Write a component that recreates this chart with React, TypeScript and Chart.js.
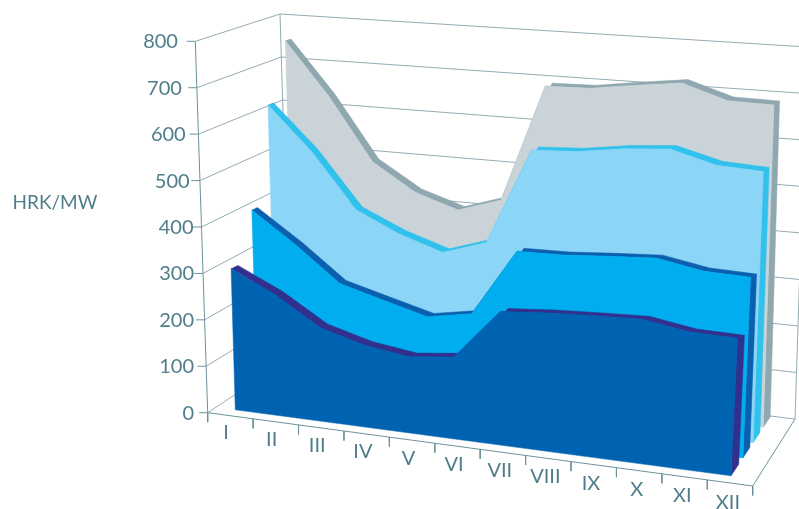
import React, { useEffect, useRef } from "react";
import { Chart, registerables } from "chart.js";

Chart.register(...registerables);

// Monthly capacity prices, HRK/MW, one row per year band (front to back)
const months = ["I", "II", "III", "IV", "V", "VI", "VII", "VIII", "IX", "X", "XI", "XII"];
const valueTicks = [0, 100, 200, 300, 400, 500, 600, 700, 800];
const unitLabel = "HRK/MW";

const bandFront = [305, 259, 200, 174, 161, 172, 278, 286, 291, 295, 280, 278];
const bandSecond = [408, 341, 267, 241, 216, 233, 377, 379, 386, 392, 375, 372];
const bandThird = [623, 526, 406, 362, 331, 362, 572, 577, 591, 599, 573, 568];
const bandBack = [752, 632, 492, 432, 401, 432, 692, 694, 708, 720, 689, 687];

const VALUE_MAX = 800;
const TEXT = "#4f7e8a";
const GRID = "#93abb3";
const AXIS = "#6b929c";

// Screen positions of the eight corners of the 3D box, indexed [month][value][depth]
const BOX = [
  [[[207.7, 412.7], [290.5, 358]], [[195.3, 41.3], [280, 14]]],
  [[[752.7, 486], [795, 419]], [[774, 86], [807, 47]]],
];

type Pt = { x: number; y: number };

const project = (u: number, value: number, w: number): Pt => {
  const v = value / VALUE_MAX;
  const mix = (k: 0 | 1) =>
    (1 - u) * ((1 - v) * ((1 - w) * BOX[0][0][0][k] + w * BOX[0][0][1][k]) + v * ((1 - w) * BOX[0][1][0][k] + w * BOX[0][1][1][k])) +
    u * ((1 - v) * ((1 - w) * BOX[1][0][0][k] + w * BOX[1][0][1][k]) + v * ((1 - w) * BOX[1][1][0][k] + w * BOX[1][1][1][k]));
  return { x: mix(0), y: mix(1) };
};

// Month centres along a band, with the slight foreshortening of the perspective
const bandU = (i: number) => {
  const t = (i + 0.45) / 12;
  return t - 0.015 * Math.sin(Math.PI * t);
};

const line = (data: Pt[], color: string, width = 1) => ({
  data,
  showLine: true,
  fill: false,
  borderColor: color,
  borderWidth: width,
  pointRadius: 0,
  tension: 0,
});

const shape = (data: Pt[], color: string) => ({
  data,
  showLine: true,
  fill: "shape",
  backgroundColor: color,
  borderColor: color,
  borderWidth: 0.5,
  pointRadius: 0,
  tension: 0,
});

type Band = {
  values: number[];
  face: string;
  edge: string;
  depth: number;
  thickLeft: number;
  thickRight: number;
  drop: number;
};

const bands: Band[] = [
  { values: bandFront, face: "#0063b1", edge: "#31308f", depth: 0.1, thickLeft: 0.08, thickRight: 0.18, drop: 15 },
  { values: bandSecond, face: "#00aeef", edge: "#0a5fae", depth: 0.37, thickLeft: 0.065, thickRight: 0.16, drop: 11 },
  { values: bandThird, face: "#8bd5f7", edge: "#30c1ec", depth: 0.6, thickLeft: 0.065, thickRight: 0.16, drop: 7 },
  { values: bandBack, face: "#c9d3d8", edge: "#8fa7af", depth: 0.83, thickLeft: 0.065, thickRight: 0.16, drop: 6 },
];

const bandDatasets = (b: Band) => {
  const rear = (i: number, value: number, lowered: boolean): Pt => {
    const u = bandU(i);
    const w = b.depth + b.thickLeft + (b.thickRight - b.thickLeft) * u;
    return project(u, lowered ? value - b.drop * u : value, w);
  };
  const last = b.values.length - 1;
  const ridge = b.values.map((val, i) => project(bandU(i), val, b.depth));
  const ridgeRear = b.values.map((val, i) => rear(i, val, true));
  const face = [project(bandU(0), 0, b.depth), ...ridge, project(bandU(last), 0, b.depth)];
  const top = [...ridge, ...ridgeRear.slice().reverse()];
  const side = [
    project(bandU(last), 0, b.depth),
    ridge[last],
    ridgeRear[last],
    rear(last, 0, false),
  ];
  const close = (p: Pt[]) => [...p, p[0]];
  // Listed nearest first: Chart.js paints the first dataset on top
  return [shape(close(face), b.face), shape(close(top), b.edge), shape(close(side), b.edge)];
};

const frameDatasets = () => {
  const out: any[] = [];
  valueTicks.forEach((val) => {
    const front = project(0, val, 0);
    out.push(line([{ x: front.x - 8.6, y: front.y }, front], AXIS));
    out.push(line([front, project(0, val, 1), project(1, val, 1)], GRID));
  });
  for (let k = 0; k <= months.length; k++) {
    const p = project(k / months.length, 0, 0);
    out.push(line([p, { x: p.x, y: p.y + 9.5 }], AXIS));
  }
  out.push(line([project(0, 0, 0), project(0, VALUE_MAX, 0)], AXIS));
  out.push(line([project(0, 0, 1), project(0, VALUE_MAX, 1)], GRID));
  out.push(line([project(1, 0, 1), project(1, VALUE_MAX, 1)], GRID));
  out.push(line([project(0, 0, 0), project(1, 0, 0)], AXIS));
  out.push(line([project(1, 0, 0), project(1, 0, 1)], AXIS));
  return out;
};

// Axis captions are placed from the same projection as the marks
const captions = {
  id: "captions",
  afterDraw(chart: any) {
    const { ctx, scales } = chart;
    const px = (p: Pt) => ({ x: scales.x.getPixelForValue(p.x), y: scales.y.getPixelForValue(p.y) });
    ctx.save();
    ctx.fillStyle = TEXT;
    ctx.font = "400 20px Lato";
    ctx.textBaseline = "middle";
    ctx.textAlign = "right";
    valueTicks.forEach((val) => {
      const p = px(project(0, val, 0));
      ctx.fillText(String(val), Math.min(194, 209 - 0.0388 * val), p.y + 0.5);
    });
    ctx.textAlign = "center";
    months.forEach((m, i) => {
      const u = (i + 0.5) / months.length;
      const p = px(project(u, 0, 0));
      ctx.fillText(m, p.x - 4.5 + 2.5 * u, p.y + 17 + 2.4 * u);
    });
    ctx.textAlign = "left";
    ctx.font = "400 19px Lato";
    ctx.fillText(unitLabel, 12.5, 202.5);
    ctx.restore();
  },
};

export default function App() {
  const ref = useRef<HTMLCanvasElement>(null);
  useEffect(() => {
    document.body.style.margin = "0";
    const chart = new Chart(ref.current!, {
      type: "scatter",
      data: { datasets: [...bands.flatMap(bandDatasets), ...frameDatasets()] as any },
      options: {
        animation: false,
        responsive: false,
        maintainAspectRatio: false,
        layout: { padding: 0 },
        plugins: { legend: { display: false }, tooltip: { enabled: false } },
        elements: { line: { borderJoinStyle: "miter" } },
        scales: {
          x: { type: "linear", display: false, min: 0, max: 799 },
          y: { type: "linear", display: false, min: 0, max: 509, reverse: true },
        },
      },
      plugins: [captions],
    });
    return () => chart.destroy();
  }, []);
  return <canvas ref={ref} width={799} height={509} style={{ display: "block" }} />;
}
